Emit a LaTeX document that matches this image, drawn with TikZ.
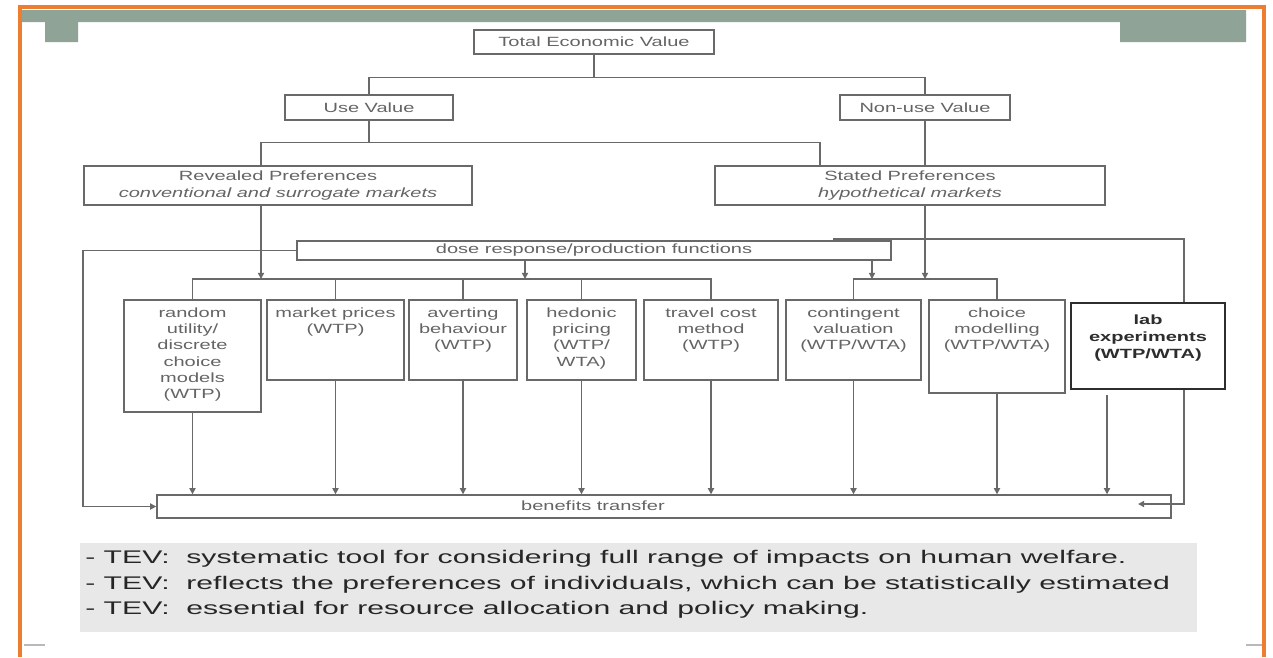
\documentclass[tikz,border=0pt]{standalone}
\usepackage{fontspec}
\setmainfont{Liberation Sans}[FakeStretch=1.5]
\newfontfamily\notefont{Liberation Sans}[FakeStretch=1.65]
\usetikzlibrary{arrows.meta,positioning,fit}
\definecolor{slideorange}{RGB}{237,125,49}
\definecolor{headgray}{RGB}{143,163,151}
\definecolor{notegray}{RGB}{232,232,232}
\definecolor{boxline}{RGB}{105,105,105}
\definecolor{boxtext}{RGB}{100,100,100}
\definecolor{darktext}{RGB}{45,45,45}
\def\u{0.02cm}
\tikzset{
  box/.style={draw=boxline,line width=0.8pt,inner sep=0pt,text=boxtext,
    font=\fontsize{7.6}{9.3}\selectfont,align=center},
  mtext/.style={text=boxtext,font=\fontsize{7.6}{9.3}\selectfont,align=center,
    inner sep=0pt,anchor=north},
  ln/.style={draw=boxline,line width=0.8pt},
  arr/.style={ln,-{Triangle[length=3.5pt,width=3.5pt]}},
  notetext/.style={text=black!85,font=\notefont\fontsize{10.4}{14.6}\selectfont,align=left,
    inner sep=0pt,anchor=north west},
}
\begin{document}
\begin{tikzpicture}[x=\u,y=-\u]
  \useasboundingbox (0,0) rectangle (1273,657);
  % slide frame
  \fill[headgray] (22,10) -- (1246,10) -- (1246,42) -- (1120,42) -- (1120,22)
    -- (78,22) -- (78,42) -- (45,42) -- (45,22) -- (22,22) -- cycle;
  \draw[slideorange,line width=2.8pt] (20,657) -- (20,7) -- (1264,7) -- (1264,657);
  \draw[gray!55,line width=1pt] (24,645) -- (45,645);
  \draw[gray!55,line width=1pt] (1246,645) -- (1262,645);

  % top levels
  \node[box,minimum width=240*\u,minimum height=24*\u] (tev) at (594,42) {Total Economic Value};
  \node[box,minimum width=168*\u,minimum height=25*\u] (use) at (369,107.5) {Use Value};
  \node[box,minimum width=170*\u,minimum height=25*\u] (nonuse) at (925,107.5) {Non-use Value};
  \node[box,minimum width=388*\u,minimum height=39*\u] (rp) at (278,185.5)
    {Revealed Preferences\\\textit{conventional and surrogate markets}};
  \node[box,minimum width=390*\u,minimum height=39*\u] (sp) at (910,185.5)
    {Stated Preferences\\\textit{hypothetical markets}};
  \node[box,minimum width=594*\u,minimum height=19*\u] (dose) at (594,250.5)
    {dose response/production functions};

  % methods
  \node[box,fit={(124,300) (261,412)}] (ru) {};
  \node[box,fit={(267,300) (404,380)}] (mp) {};
  \node[box,fit={(409,300) (517,380)}] (av) {};
  \node[box,fit={(527,300) (636,380)}] (hp) {};
  \node[box,fit={(644,300) (778,380)}] (tc) {};
  \node[box,fit={(786,300) (921,380)}] (cv) {};
  \node[box,fit={(929,300) (1065,393)}] (cm) {};
  \node[box,draw=darktext,line width=1.1pt,fit={(1071,303) (1225,389)}] (lab) {};
  \node[mtext] (ru-t) at ([yshift=-4.5pt]ru.north) {random\\utility/\\discrete\\choice\\models\\(WTP)};
  \node[mtext] (mp-t) at ([yshift=-4.5pt]mp.north) {market prices\\(WTP)};
  \node[mtext] (av-t) at ([yshift=-4.5pt]av.north) {averting\\behaviour\\(WTP)};
  \node[mtext] (hp-t) at ([yshift=-4.5pt]hp.north) {hedonic\\pricing\\(WTP/\\WTA)};
  \node[mtext] (tc-t) at ([yshift=-4.5pt]tc.north) {travel cost\\method\\(WTP)};
  \node[mtext] (cv-t) at ([yshift=-4.5pt]cv.north) {contingent\\valuation\\(WTP/WTA)};
  \node[mtext] (cm-t) at ([yshift=-4.5pt]cm.north) {choice\\modelling\\(WTP/WTA)};
  \node[mtext,text=darktext,font=\bfseries\fontsize{7.6}{9.6}\selectfont] (lab-t)
    at ([yshift=-7pt]lab.north) {lab\\experiments\\(WTP/WTA)};

  \node[box,minimum width=1014*\u,minimum height=23*\u] (bt) at (664,506.5) {};
  \node[mtext,anchor=center] (bt-t) at (593,505.5) {benefits transfer};

  % helper points
  \coordinate (rpx) at (261,0);
  \coordinate (spx) at (820,0);
  \coordinate (dosea) at (525,0);
  \coordinate (doseb) at (872,0);
  \coordinate (bus) at (0,279);
  \coordinate (lft) at (83,0);
  \coordinate (rgt) at (1184,0);
  \coordinate (labx) at (1107,0);
  \coordinate (rtop) at (833,239);
  \coordinate (btin) at (1138,504);

  % tree
  \draw[ln] (tev.south) -- ++(0,23) coordinate (j1);
  \draw[ln] (use.north) |- (j1) -| (nonuse.north);
  \draw[ln] (use.south) -- ++(0,22) coordinate (j2);
  \draw[ln] (rp.north -| rpx) |- (j2) -| (sp.north -| spx);
  \draw[ln] (nonuse.south) -- (nonuse.south |- sp.north);

  % arrows into the brackets
  \draw[arr] (rp.south -| rpx) -- (rpx |- bus);
  \draw[arr] (dose.south -| dosea) -- (dosea |- bus);
  \draw[arr] (dose.south -| doseb) -- (doseb |- bus);
  \draw[arr] (sp.south -| nonuse.south) -- (nonuse.south |- bus);

  % brackets
  \draw[ln] (ru.north) -- (ru.north |- bus) -- (tc.north |- bus) -- (tc.north);
  \foreach \b in {mp,av,hp}
    \draw[ln] (\b.north) -- (\b.north |- bus);
  \draw[ln] (cv.north) -- (cv.north |- bus) -- (cm.north |- bus) -- (cm.north);

  % down to benefits transfer
  \foreach \b in {ru,mp,av,hp,tc,cv,cm}
    \draw[arr] (\b.south) -- (\b.south |- bt.north);
  \draw[arr,shorten <=3pt] (lab.south -| labx) -- (labx |- bt.north);
  \draw[arr] (dose.west) -| (lft |- bt.west) -- (bt.west);
  \draw[ln] (rtop) -| (lab.north -| rgt);
  \draw[arr] (lab.south -| rgt) |- (btin);

  % notes
  \node[fill=notegray,inner sep=0pt,fit={(80,543) (1197,632)}] (note) {};
  \node[notetext] (note-t) at (85,550)
    {- TEV:\ \ systematic tool for considering full range of impacts on human welfare.\\
     - TEV:\ \ reflects the preferences of individuals, which can be statistically estimated\\
     - TEV:\ \ essential for resource allocation and policy making.};
\end{tikzpicture}
\end{document}
